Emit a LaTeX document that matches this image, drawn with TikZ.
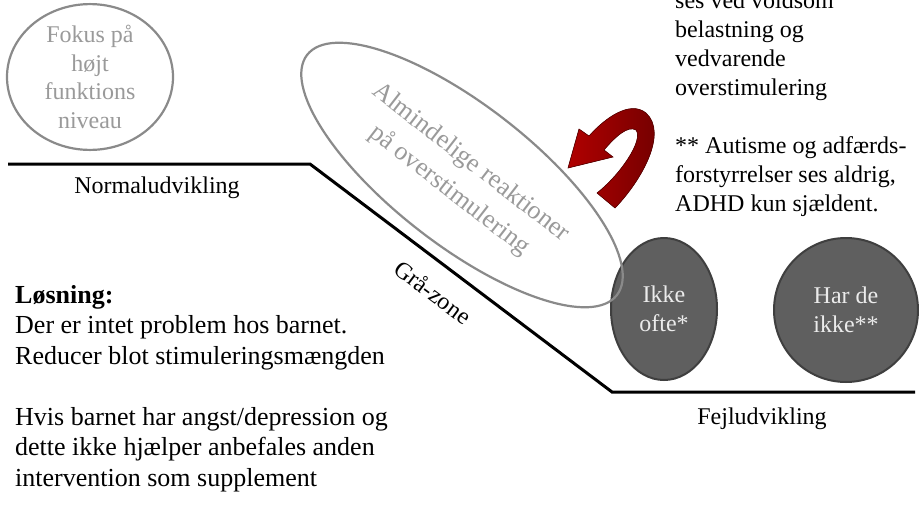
\documentclass[tikz,border=0pt]{standalone}
\usepackage{fontspec}
\setmainfont{Liberation Serif}
\usetikzlibrary{shapes.geometric}
\definecolor{ringgray}{HTML}{8A8A8A}
\definecolor{ringtext}{HTML}{9A9A9A}
\definecolor{darkfill}{HTML}{5F5F5F}
\definecolor{darkedge}{HTML}{3F3F3F}
\definecolor{redfront}{HTML}{B00000}
\definecolor{redback}{HTML}{6E0000}
\definecolor{redline}{HTML}{5A0000}
\begin{document}
\begin{tikzpicture}[x=1pt,y=-1pt,
  lbl/.style={inner sep=0pt, font=\fontsize{24}{29}\selectfont},
  ring/.style={ellipse, draw=ringgray, line width=2.2pt, text=ringtext, align=center, inner sep=0pt, font=\fontsize{24}{28.5}\selectfont},
  darkc/.style={ellipse, draw=darkedge, fill=darkfill, line width=2pt, text=white!92!black, align=center, inner sep=0pt, font=\fontsize{24}{29}\selectfont},
  devline/.style={line width=3pt, black},
  bodytext/.style={anchor=north west, inner sep=0pt, align=left}]
\fill[white] (0,0) rectangle (919,517);
\useasboundingbox (0,0) rectangle (919,517);
\clip (0,0) rectangle (919,517);

% development line
\coordinate (n0) at (8,164);
\coordinate (n1) at (310,164);
\coordinate (f0) at (612,392);
\coordinate (f1) at (915,392);
\draw[devline] (n0) -- (n1) -- (f0) -- (f1);

\node[lbl, anchor=base] (normal) at (157,193) {Normaludvikling};
\node[lbl, anchor=base] (fejl) at (762,424) {Fejludvikling};
\node[lbl, rotate=-36.9] (gra) at (433,292) {Grå-zone};

% top-left circle
\node[ring, minimum width=166, minimum height=144] (fokus) at (90,77) {Fokus på\\højt\\funktions\\niveau};

% dark circles
\node[darkc, minimum width=106, minimum height=142] (ikke) at (664,309) {Ikke\\ofte*};
\node[darkc, minimum width=144, minimum height=144] (har) at (846,310) {Har de\\ikke**};

% big tilted ellipse
\node[ellipse, draw=ringgray, line width=2.2pt, minimum width=392, minimum height=140, inner sep=0pt, rotate=-37.8] (alm) at (462,175) {};
\node[text=ringtext, align=center, font=\fontsize{26}{35}\selectfont, rotate=-37.8, inner sep=0pt] (almtxt) at (460,177) {Almindelige reaktioner\\på overstimulering};

% curved red arrow
\fill[left color=redfront, right color=redback, draw=redline, line width=0.6pt]
  (615,208) .. controls (642,180) and (668,133) .. (646,113)
  .. controls (630,100) and (605,118) .. (589,136)
  -- (579,129) -- (568,168) -- (613,157) -- (604,150)
  .. controls (615,137) and (628,125) .. (636,130)
  .. controls (644,140) and (620,175) .. (597,193) -- cycle;

% text blocks
\node[bodytext, font=\fontsize{26}{30.5}\selectfont] (losning) at (15,285)
  {\textbf{Løsning:}\\Der er intet problem hos barnet.\\Reducer blot stimuleringsmængden\\[30.5pt]Hvis barnet har angst/depression og\\dette ikke hjælper anbefales anden\\intervention som supplement};
\node[bodytext, font=\fontsize{24}{29}\selectfont] (note) at (675,-8.4)
  {ses ved voldsom\\belastning og\\vedvarende\\overstimulering\\[29pt]** Autisme og adfærds-\\forstyrrelser ses aldrig,\\ADHD kun sjældent.};
\end{tikzpicture}
\end{document}
